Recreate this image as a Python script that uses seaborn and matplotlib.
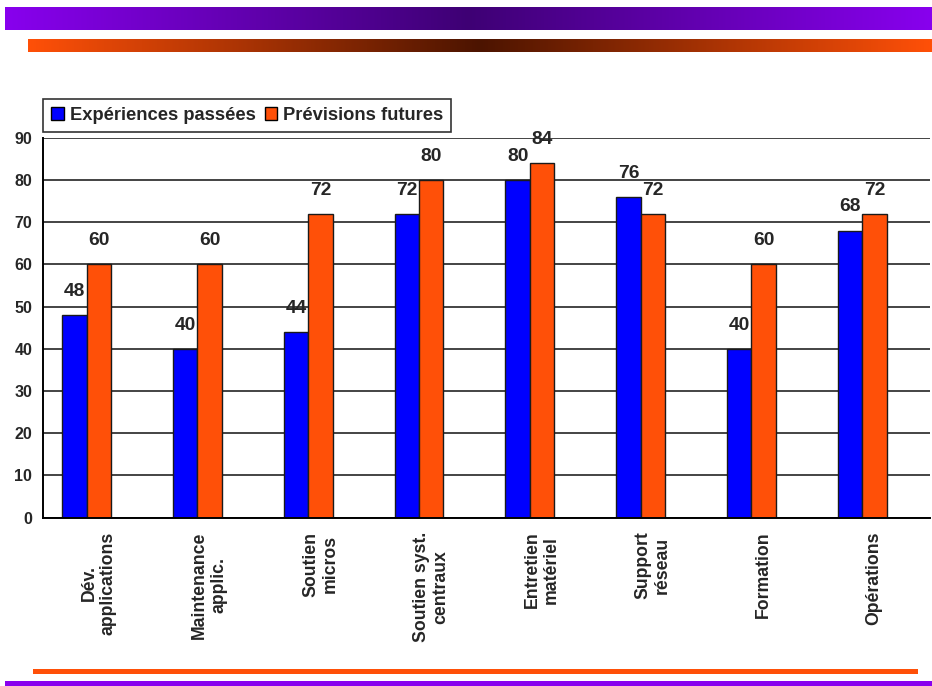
import numpy as np
import pandas as pd
import matplotlib
matplotlib.use("Agg")
import matplotlib.pyplot as plt
from matplotlib.patches import Patch, Rectangle
from matplotlib.ticker import FixedLocator
import seaborn as sns

# --- données ---
categories = [
    "Dév.\napplications",
    "Maintenance\napplic.",
    "Soutien\nmicros",
    "Soutien syst.\ncentraux",
    "Entretien\nmatériel",
    "Support\nréseau",
    "Formation",
    "Opérations",
]
series_names = ["Expériences passées", "Prévisions futures"]
experiences_passees = [48, 40, 44, 72, 80, 76, 40, 68]
previsions_futures = [60, 60, 72, 80, 84, 72, 60, 72]
y_ticks = [0, 10, 20, 30, 40, 50, 60, 70, 80, 90]

BLUE = "#0000FF"
ORANGE = "#FF5008"
PURPLE_EDGE = np.array([0x88, 0x00, 0xEE]) / 255
PURPLE_MID = np.array([0x3E, 0x00, 0x74]) / 255
ORANGE_EDGE = np.array([0xFF, 0x50, 0x08]) / 255
ORANGE_MID = np.array([0x4C, 0x14, 0x00]) / 255

df = pd.DataFrame({
    "catégorie": categories * 2,
    "série": [series_names[0]] * len(categories) + [series_names[1]] * len(categories),
    "valeur": experiences_passees + previsions_futures,
})

sns.set_style("white")
plt.rcParams["font.family"] = ["Liberation Sans", "DejaVu Sans"]
plt.rcParams["font.weight"] = "bold"

W, H = 932, 686
fig = plt.figure(figsize=(W / 100, H / 100), dpi=100)

# --- bandeaux décoratifs ---
def gradient_band(x0, y0, x1, y1, edge, mid):
    t = np.abs(np.linspace(-1, 1, 512))
    cols = (mid[None, :] * (1 - t[:, None]) + edge[None, :] * t[:, None])
    bax = fig.add_axes([x0 / W, 1 - y1 / H, (x1 - x0) / W, (y1 - y0) / H])
    bax.imshow(cols[None, :, :], aspect="auto", interpolation="bilinear")
    bax.set_axis_off()

gradient_band(5, 7, 932, 30, PURPLE_EDGE, PURPLE_MID)
gradient_band(28, 39, 932, 52, ORANGE_EDGE, ORANGE_MID)
fig.patches.append(Rectangle((33 / W, 1 - 674 / H), (918 - 33) / W, 5 / H,
                             transform=fig.transFigure, color=ORANGE_EDGE, lw=0))
fig.patches.append(Rectangle((5 / W, 0), (932 - 5) / W, 5 / H,
                             transform=fig.transFigure, color=PURPLE_EDGE, lw=0))

# --- graphique ---
ax = fig.add_axes([43.3 / W, 1 - 517.7 / H, (929.5 - 43.3) / W, (517.7 - 137.7) / H])
sns.barplot(data=df, x="catégorie", y="valeur", hue="série", order=categories,
            hue_order=series_names, palette={series_names[0]: BLUE, series_names[1]: ORANGE},
            width=0.44, edgecolor="#1a1a1a", linewidth=1.0, saturation=1, ax=ax,
            legend=False)

shift = 0.108
n = len(categories)
ax.set_xlim(-0.5 + shift, n - 0.5 + shift)
ax.set_ylim(0, 90)
ax.set_yticks(y_ticks)
ax.set_yticklabels([str(v) for v in y_ticks], fontsize=11.5, fontweight="bold")

ax.xaxis.set_major_locator(FixedLocator([i + shift for i in range(n)]))
ax.set_xticklabels(categories, rotation=90, fontsize=12.7, fontweight="bold",
                   multialignment="center", linespacing=1.2)
ax.xaxis.set_minor_locator(FixedLocator([i - 0.5 + shift for i in range(n + 1)]))
ax.tick_params(axis="x", which="major", length=0, pad=10)
ax.tick_params(axis="x", which="minor", length=6, width=1.2, color="black", direction="out")
ax.tick_params(axis="y", which="major", length=5, width=1.2, color="black",
               direction="out", pad=3)
ax.set_xlabel("")
ax.set_ylabel("")

ax.yaxis.grid(True, color="#111111", linewidth=1.1)
ax.set_axisbelow(True)
for side in ("top", "right"):
    ax.spines[side].set_visible(False)
for side in ("left", "bottom"):
    ax.spines[side].set_color("black")
    ax.spines[side].set_linewidth(1.4)

# étiquettes de valeur au-dessus des barres
for container in ax.containers:
    for bar in container:
        h = bar.get_height()
        ax.annotate(f"{h:.0f}", (bar.get_x() + bar.get_width() / 2, h),
                    xytext=(0, 17), textcoords="offset points",
                    ha="center", va="center", fontsize=13.8, fontweight="bold",
                    annotation_clip=False)

# légende
handles = [Patch(facecolor=BLUE, edgecolor="black", linewidth=1),
           Patch(facecolor=ORANGE, edgecolor="black", linewidth=1)]
leg = fig.legend(handles, series_names, loc="lower left",
                 bbox_to_anchor=(43 / W, 1 - 132 / H), ncol=2, frameon=True,
                 fancybox=False, shadow=False, borderpad=0.45, borderaxespad=0,
                 handlelength=0.7, handleheight=0.7, handletextpad=0.3,
                 columnspacing=0.5, prop={"size": 13.2, "weight": "bold"})
leg.get_frame().set_edgecolor("black")
leg.get_frame().set_linewidth(1.2)

fig.savefig("out.png", dpi=100)
